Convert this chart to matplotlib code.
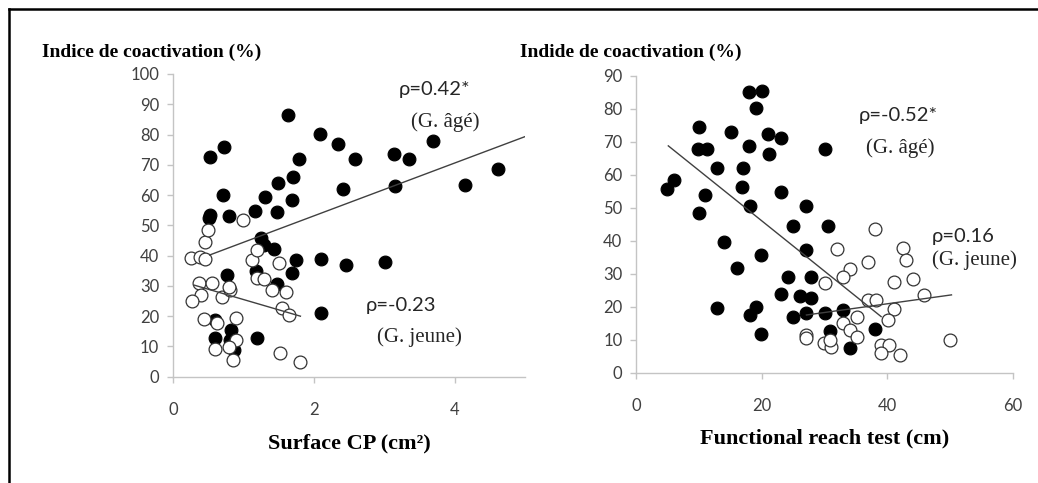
import numpy as np
import matplotlib
matplotlib.use('Agg')
from matplotlib import pyplot as plt
from matplotlib.lines import Line2D

# surface CP (cm2) vs coactivation index (%)
old_surf_x = [0.52, 0.72, 0.52, 0.51, 0.71, 0.80, 0.77, 0.60, 0.59, 0.83,
              0.81, 0.87, 1.20, 1.17, 1.31, 1.49, 1.48, 1.64, 1.71, 1.69,
              1.79, 1.25, 1.29, 1.43, 1.18, 1.48, 1.75, 1.69, 2.09, 2.35,
              2.59, 2.41, 2.10, 2.46, 2.10, 3.01, 3.14, 3.35, 3.16, 3.69,
              4.15, 4.62]
old_surf_y = [72.5, 76, 53.4, 52.5, 60, 53.2, 33.6, 18.7, 12.9, 15.4,
              12.1, 8.8, 12.9, 54.8, 59.5, 63.9, 54.3, 86.5, 65.9, 58.4,
              71.9, 45.7, 43.5, 42.1, 35, 30.6, 38.5, 34.1, 80.2, 76.9,
              71.9, 61.9, 38.8, 36.9, 20.9, 38, 73.5, 72, 63.1, 77.9,
              63.3, 68.6]
young_surf_x = [0.26, 0.38, 0.46, 0.45, 0.50, 0.37, 0.56, 0.40, 0.27, 0.44,
                0.63, 0.59, 0.69, 0.81, 0.80, 0.99, 1.12, 1.19, 1.19, 1.29,
                1.40, 1.50, 1.60, 1.55, 1.65, 0.90, 0.90, 0.85, 0.80, 1.52,
                1.81]
young_surf_y = [39.1, 39.6, 38.8, 44.4, 48.5, 30.8, 30.8, 27, 24.9, 18.9,
                17.6, 9.0, 26.4, 28.6, 29.5, 51.8, 38.5, 41.9, 32.5, 32.2,
                28.6, 37.4, 28.1, 22.6, 20.4, 19.3, 12.1, 5.5, 9.9, 7.9,
                5.0]

# functional reach test (cm) vs coactivation index (%)
old_frt_x = [4.9, 6.0, 10.0, 9.9, 11.2, 11.0, 10.0, 12.9, 15.1, 14.0,
             16.0, 12.9, 18.0, 20.1, 19.0, 18.0, 17.0, 16.9, 18.1, 21.0,
             23.0, 21.1, 19.9, 18.1, 19.0, 19.9, 23.0, 25.0, 27.1, 27.1,
             27.9, 24.1, 23.0, 26.0, 27.9, 24.9, 27.1, 30.0, 32.9, 30.1,
             30.6, 30.8, 34.0, 38.0]
old_frt_y = [55.6, 58.4, 74.6, 68.0, 68.0, 53.9, 48.3, 62, 72.9, 39.7,
             31.9, 19.5, 85.0, 85.5, 80.2, 68.8, 62, 56.4, 50.7, 72.4,
             71.3, 66.2, 35.7, 17.5, 20, 11.6, 54.9, 44.6, 50.7, 37.2,
             29.1, 28.9, 23.8, 23.3, 22.8, 17.0, 18.0, 18.0, 19.0, 68.0,
             44.6, 12.6, 7.4, 13.4]
young_frt_x = [38.0, 32.0, 36.9, 34.0, 32.9, 30.0, 42.5, 43.0, 44.0, 41.0,
               45.9, 36.9, 38.2, 41.0, 40.1, 35.1, 32.9, 34.0, 35.1, 27.1,
               27.1, 29.9, 31.0, 39.0, 40.3, 39.0, 42.0, 49.9, 30.8]
young_frt_y = [43.5, 37.5, 33.7, 31.4, 29.1, 27.3, 37.7, 34.2, 28.4, 27.4,
               23.6, 22.2, 22.2, 19.2, 16.0, 17.0, 15.0, 12.9, 10.9, 11.4,
               10.4, 8.9, 7.7, 8.4, 8.4, 5.9, 5.4, 9.9, 9.9]

# trend lines: (x start, x end, intercept, slope)
old_surf_fit = (0.52, 5.02, 35.66, 8.73)
young_surf_fit = (0.30, 1.81, 32.3, -6.8)
old_frt_fit = (5.1, 39.0, 76.6, -1.528)
young_frt_fit = (27.1, 50.2, 10.35, 0.264)

W, H = 1038, 483
fig = plt.figure(figsize=(W / 100, H / 100), dpi=100)
fig.patch.set_facecolor('white')


def fx(px):
    return px / W


def fy(py):
    return 1 - py / H


tick_font = ['Lato', 'DejaVu Sans']
serif_font = ['Liberation Serif', 'DejaVu Serif']
GREY = '#c4c4c4'


def panel(rect, old_x, old_y, young_x, young_y, fits, xlim, ylim, xticks, yticks):
    ax = fig.add_axes(rect)
    ax.scatter(old_x, old_y, s=85, c='black', edgecolors='black', linewidths=0.8, zorder=3)
    ax.scatter(young_x, young_y, s=85, facecolors='white', edgecolors='#333333',
               linewidths=0.9, zorder=3)
    for x0, x1, b, m in fits:
        xs = np.array([x0, x1])
        ax.plot(xs, b + m * xs, color='#404040', lw=1.0, zorder=4)
    ax.set_xlim(*xlim)
    ax.set_ylim(*ylim)
    ax.set_xticks(xticks)
    ax.set_yticks(yticks)
    for s in ['top', 'right']:
        ax.spines[s].set_visible(False)
    for s in ['left', 'bottom']:
        ax.spines[s].set_color(GREY)
        ax.spines[s].set_linewidth(1.0)
    ax.tick_params(colors=GREY, labelcolor='#404040', length=4, width=1.0,
                   labelsize=12, pad=6)
    ax.tick_params(axis='x', pad=14)
    for lab in ax.get_xticklabels() + ax.get_yticklabels():
        lab.set_family(tick_font)
    ax.set_facecolor('none')
    return ax


ax1 = panel([fx(173), 1 - 376.7 / H, 352 / W, 302.7 / H],
            old_surf_x, old_surf_y, young_surf_x, young_surf_y,
            [old_surf_fit, young_surf_fit], (0, 5), (0, 100), [0, 2, 4], range(0, 101, 10))
ax2 = panel([fx(636.3), 1 - 372.7 / H, 376.7 / W, 296.7 / H],
            old_frt_x, old_frt_y, young_frt_x, young_frt_y,
            [old_frt_fit, young_frt_fit], (0, 60), (0, 90), [0, 20, 40, 60], range(0, 91, 10))

# titles and axis labels
fig.text(fx(42), fy(52), 'Indice de coactivation (%)', family=serif_font,
         weight='bold', fontsize=14, va='center', ha='left')
fig.text(fx(520), fy(52), 'Indide de coactivation (%)', family=serif_font,
         weight='bold', fontsize=14, va='center', ha='left')
fig.text(fx(349), fy(443), 'Surface CP (cm\u00b2)', family=serif_font,
         weight='bold', fontsize=16, va='center', ha='center')
fig.text(fx(825), fy(438), 'Functional reach test (cm)', family=serif_font,
         weight='bold', fontsize=16, va='center', ha='center')

# correlation annotations
notes = [
    (435, 90, '\u03c1=0.42*', 'sans', 'center'),
    (445, 122, '(G. \u00e2g\u00e9)', 'serif', 'center'),
    (401, 305, '\u03c1=-0.23', 'sans', 'center'),
    (419, 337, '(G. jeune)', 'serif', 'center'),
    (898, 115, '\u03c1=-0.52*', 'sans', 'center'),
    (900, 148, '(G. \u00e2g\u00e9)', 'serif', 'center'),
    (932, 237, '\u03c1=0.16', 'sans', 'left'),
    (932, 260, '(G. jeune)', 'serif', 'left'),
]
for x, y, txt, kind, ha in notes:
    if kind == 'sans':
        fig.text(fx(x), fy(y), txt, family=tick_font, fontsize=14.5,
                 color='#262626', va='center', ha=ha)
    else:
        fig.text(fx(x), fy(y), txt, family=serif_font, fontsize=15,
                 color='#262626', va='center', ha=ha)

# frame lines (top and left only)
fig.add_artist(Line2D([fx(9), 1], [fy(9), fy(9)], color='black', lw=1.8))
fig.add_artist(Line2D([fx(9), fx(9)], [0, fy(9)], color='black', lw=1.8))

fig.savefig('out.png', dpi=100)
